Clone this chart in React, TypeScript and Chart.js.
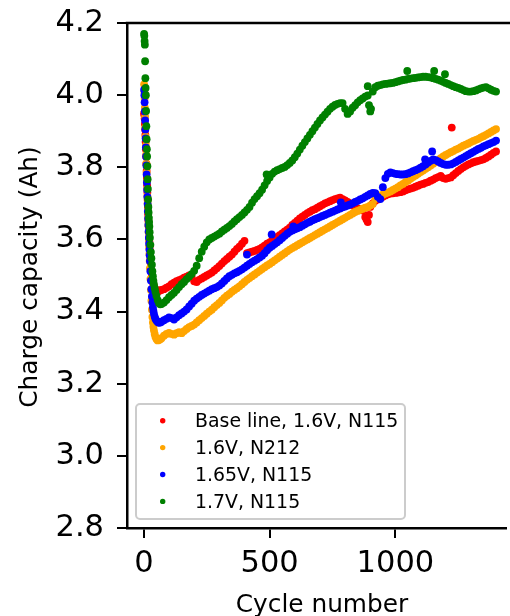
import React, { useEffect, useRef } from 'react';
import { Chart, registerables } from 'chart.js';

Chart.register(...registerables);

const FONT = '"DejaVu Sans", Verdana, sans-serif';

const seriesLabels = ['Base line, 1.6V, N115', '1.6V, N212', '1.65V, N115', '1.7V, N115'];
const seriesColors = ['#ff0000', '#ffa500', '#0000ff', '#008000'];

const xTickValues = [0, 500, 1000];
const yTickValues = [2.8, 3.0, 3.2, 3.4, 3.6, 3.8, 4.0, 4.2];
const xAxisTitle = 'Cycle number';
const yAxisTitle = 'Charge capacity (Ah)';

// first cycles (steep initial drop)
const earlyCycles = [1, 2, 3, 4, 5, 6, 7, 8, 9, 10, 11, 12, 13, 14, 15, 16, 17, 18, 19, 20, 21, 22, 23, 24,
  26, 28, 30, 32, 34, 36, 38, 40, 43, 46, 50, 55, 60, 65];
// every 10th cycle from 70 to 1400
const mainCycles = Array.from({ length: 134 }, (_, i) => 70 + i * 10);

const redEarly = [3.950, 3.945, 3.935, 3.920, 3.905, 3.890, 3.870, 3.850, 3.830, 3.810, 3.790, 3.770, 3.750, 3.730, 3.710, 3.690, 3.670, 3.652, 3.636, 3.620, 3.606, 3.594, 3.582, 3.570,
  3.548, 3.530, 3.515, 3.500, 3.490, 3.482, 3.475, 3.470, 3.465, 3.462, 3.458, 3.456, 3.457, 3.459];
const redMain = [
  3.460, 3.462, 3.466, 3.470, 3.476, 3.480, 3.484, 3.487, 3.490, 3.494,
  3.497, 3.500, 3.496, 3.484, 3.482, 3.488, 3.492, 3.496, 3.500, 3.504,
  3.508, 3.514, 3.520, 3.526, 3.533, 3.540, 3.546, 3.552, 3.558, 3.566,
  3.574, 3.580, 3.588, 3.596, 3.562, 3.564, 3.566, 3.568, 3.571, 3.574,
  3.578, 3.583, 3.588, 3.592, 3.597, 3.602, 3.607, 3.612, 3.617, 3.622,
  3.627, 3.633, 3.640, 3.646, 3.652, 3.658, 3.663, 3.668, 3.673, 3.677,
  3.681, 3.684, 3.688, 3.692, 3.696, 3.700, 3.703, 3.706, 3.709, 3.712,
  3.714, 3.716, 3.712, 3.708, 3.704, 3.700, 3.694, 3.690, 3.686, 3.684,
  3.680, 3.662, 3.648, 3.690, 3.700, 3.707, 3.711, 3.715, 3.718, 3.722,
  3.725, 3.727, 3.728, 3.729, 3.730, 3.731, 3.733, 3.736, 3.739, 3.741,
  3.743, 3.746, 3.749, 3.752, 3.754, 3.757, 3.759, 3.763, 3.766, 3.770,
  3.773, 3.776, 3.770, 3.768, 3.770, 3.772, 3.778, 3.784, 3.790, 3.795,
  3.800, 3.804, 3.808, 3.811, 3.814, 3.816, 3.818, 3.820, 3.822, 3.826,
  3.830, 3.835, 3.840, 3.844];
const redExtraCycles = [885, 895, 1224];
const redExtraValues = [3.655, 3.668, 3.910];

const orangeEarly = [4.030, 4.010, 3.990, 3.965, 3.940, 3.910, 3.885, 3.860, 3.835, 3.810, 3.785, 3.760, 3.740, 3.720, 3.700, 3.680, 3.660, 3.640, 3.620, 3.600, 3.580, 3.560, 3.540, 3.520,
  3.490, 3.460, 3.430, 3.405, 3.385, 3.370, 3.358, 3.348, 3.338, 3.330, 3.324, 3.320, 3.321, 3.323];
const orangeMain = [
  3.326, 3.333, 3.338, 3.341, 3.338, 3.336, 3.340, 3.343, 3.340, 3.346,
  3.352, 3.357, 3.360, 3.364, 3.370, 3.376, 3.382, 3.388, 3.394, 3.400,
  3.405, 3.412, 3.418, 3.424, 3.431, 3.438, 3.444, 3.449, 3.455, 3.460,
  3.465, 3.470, 3.476, 3.482, 3.488, 3.493, 3.498, 3.503, 3.508, 3.513,
  3.518, 3.523, 3.528, 3.532, 3.537, 3.542, 3.547, 3.552, 3.557, 3.562,
  3.567, 3.572, 3.576, 3.580, 3.584, 3.588, 3.592, 3.596, 3.600, 3.604,
  3.608, 3.612, 3.616, 3.620, 3.624, 3.628, 3.632, 3.636, 3.640, 3.644,
  3.648, 3.652, 3.656, 3.660, 3.664, 3.668, 3.672, 3.676, 3.679, 3.682,
  3.685, 3.688, 3.690, 3.694, 3.698, 3.712, 3.720, 3.722, 3.724, 3.727,
  3.730, 3.733, 3.737, 3.741, 3.745, 3.750, 3.754, 3.759, 3.763, 3.768,
  3.773, 3.777, 3.782, 3.787, 3.791, 3.796, 3.800, 3.805, 3.810, 3.815,
  3.820, 3.825, 3.830, 3.834, 3.838, 3.842, 3.845, 3.849, 3.852, 3.856,
  3.860, 3.863, 3.866, 3.870, 3.873, 3.876, 3.879, 3.883, 3.886, 3.890,
  3.894, 3.898, 3.902, 3.906];
const orangeExtraCycles: number[] = [];
const orangeExtraValues: number[] = [];

const blueEarly = [4.015, 4.000, 3.980, 3.955, 3.930, 3.905, 3.880, 3.855, 3.830, 3.805, 3.780, 3.758, 3.738, 3.718, 3.698, 3.678, 3.658, 3.640, 3.622, 3.605, 3.588, 3.572, 3.556, 3.540,
  3.512, 3.486, 3.462, 3.442, 3.425, 3.412, 3.402, 3.394, 3.386, 3.380, 3.375, 3.371, 3.369, 3.370];
const blueMain = [
  3.372, 3.376, 3.380, 3.384, 3.382, 3.378, 3.384, 3.390, 3.395, 3.400,
  3.406, 3.414, 3.422, 3.430, 3.436, 3.441, 3.446, 3.450, 3.454, 3.458,
  3.462, 3.465, 3.468, 3.472, 3.478, 3.485, 3.492, 3.498, 3.502, 3.506,
  3.509, 3.513, 3.517, 3.522, 3.527, 3.532, 3.537, 3.541, 3.545, 3.550,
  3.555, 3.562, 3.570, 3.577, 3.582, 3.587, 3.592, 3.598, 3.604, 3.610,
  3.616, 3.621, 3.625, 3.628, 3.631, 3.634, 3.638, 3.642, 3.646, 3.649,
  3.653, 3.656, 3.659, 3.662, 3.665, 3.668, 3.671, 3.674, 3.677, 3.680,
  3.683, 3.686, 3.689, 3.691, 3.694, 3.697, 3.700, 3.704, 3.707, 3.711,
  3.714, 3.718, 3.722, 3.726, 3.729, 3.728, 3.718, 3.712, 3.745, 3.770,
  3.782, 3.786, 3.784, 3.782, 3.781, 3.780, 3.780, 3.781, 3.783, 3.786,
  3.789, 3.792, 3.795, 3.799, 3.803, 3.808, 3.813, 3.818, 3.822, 3.820,
  3.816, 3.812, 3.809, 3.807, 3.807, 3.808, 3.811, 3.815, 3.819, 3.823,
  3.827, 3.831, 3.835, 3.839, 3.843, 3.847, 3.851, 3.854, 3.858, 3.861,
  3.864, 3.867, 3.870, 3.874];
const blueExtraCycles = [410, 508, 594, 783, 1118, 1146];
const blueExtraValues = [3.558, 3.614, 3.636, 3.703, 3.822, 3.844];

const greenEarly = [4.170, 4.165, 4.150, 4.140, 4.094, 4.047, 4.020, 4.000, 3.956, 3.914, 3.878, 3.850, 3.830, 3.803, 3.767, 3.740, 3.711, 3.690, 3.675, 3.660, 3.648, 3.636, 3.620, 3.605,
  3.585, 3.565, 3.548, 3.530, 3.512, 3.498, 3.485, 3.475, 3.465, 3.455, 3.444, 3.432, 3.424, 3.420];
const greenMain = [
  3.421, 3.425, 3.432, 3.440, 3.446, 3.452, 3.460, 3.468, 3.476, 3.482,
  3.490, 3.497, 3.504, 3.513, 3.527, 3.548, 3.566, 3.580, 3.592, 3.600,
  3.604, 3.608, 3.612, 3.616, 3.622, 3.627, 3.632, 3.637, 3.643, 3.650,
  3.656, 3.662, 3.668, 3.675, 3.682, 3.690, 3.702, 3.712, 3.720, 3.728,
  3.738, 3.750, 3.762, 3.772, 3.782, 3.788, 3.792, 3.795, 3.798, 3.801,
  3.806, 3.812, 3.819, 3.828, 3.838, 3.849, 3.860, 3.870, 3.880, 3.890,
  3.900, 3.910, 3.920, 3.930, 3.938, 3.946, 3.954, 3.962, 3.968, 3.973,
  3.976, 3.978, 3.978, 3.962, 3.948, 3.955, 3.965, 3.972, 3.980, 3.986,
  3.991, 3.996, 3.999, 3.955, 4.010, 4.022, 4.026, 4.028, 4.030, 4.031,
  4.032, 4.033, 4.034, 4.036, 4.038, 4.040, 4.042, 4.043, 4.045, 4.046,
  4.047, 4.048, 4.049, 4.050, 4.051, 4.051, 4.050, 4.049, 4.047, 4.045,
  4.043, 4.040, 4.037, 4.034, 4.031, 4.028, 4.025, 4.022, 4.020, 4.017,
  4.014, 4.011, 4.010, 4.010, 4.011, 4.013, 4.016, 4.019, 4.021, 4.022,
  4.019, 4.015, 4.012, 4.010];
const greenExtraCycles = [488, 890, 895, 903, 1047, 1154, 1197];
const greenExtraValues = [3.780, 4.025, 3.972, 3.962, 4.067, 4.067, 4.058];

function toPoints(early: number[], main: number[], extraC: number[], extraV: number[]) {
  const pts: { x: number; y: number }[] = [];
  earlyCycles.forEach((c, i) => pts.push({ x: c, y: early[i] }));
  mainCycles.forEach((c, i) => { if (main[i] !== undefined) pts.push({ x: c, y: main[i] }); });
  extraC.forEach((c, i) => pts.push({ x: c, y: extraV[i] }));
  return pts;
}

const seriesPoints = [
  toPoints(redEarly, redMain, redExtraCycles, redExtraValues),
  toPoints(orangeEarly, orangeMain, orangeExtraCycles, orangeExtraValues),
  toPoints(blueEarly, blueMain, blueExtraCycles, blueExtraValues),
  toPoints(greenEarly, greenMain, greenExtraCycles, greenExtraValues),
];

const decorPlugin = {
  id: 'decor',
  afterDraw(chart: any) {
    const { ctx, chartArea } = chart;
    ctx.save();
    // top spine
    ctx.strokeStyle = '#000000';
    ctx.lineWidth = 2.5;
    ctx.beginPath();
    ctx.moveTo(chartArea.left - 1.25, chartArea.top);
    ctx.lineTo(chart.width, chartArea.top);
    ctx.stroke();

    // axis titles
    ctx.fillStyle = '#000000';
    ctx.font = `24.8px ${FONT}`;
    ctx.textAlign = 'center';
    ctx.textBaseline = 'alphabetic';
    ctx.fillText(xAxisTitle, 322, 612);
    ctx.save();
    ctx.translate(37, 277);
    ctx.rotate(-Math.PI / 2);
    ctx.fillText(yAxisTitle, 0, 0);
    ctx.restore();

    // legend
    const lx = chartArea.left + 9;
    const lw = 269;
    const lh = 115;
    const ly = chartArea.bottom - 9 - lh;
    ctx.beginPath();
    ctx.roundRect(lx, ly, lw, lh, 4);
    ctx.fillStyle = 'rgba(255,255,255,0.8)';
    ctx.fill();
    ctx.strokeStyle = '#cccccc';
    ctx.lineWidth = 2;
    ctx.stroke();
    ctx.font = `18.9px ${FONT}`;
    ctx.textAlign = 'left';
    seriesLabels.forEach((label, i) => {
      const cy = ly + 16.7 + i * 26.9;
      ctx.beginPath();
      ctx.arc(lx + 26.7, cy, 2.7, 0, Math.PI * 2);
      ctx.fillStyle = seriesColors[i];
      ctx.fill();
      ctx.fillStyle = '#000000';
      ctx.fillText(label, lx + 59, cy + 6.1);
    });
    ctx.restore();
  },
};

export default function App() {
  const ref = useRef<HTMLCanvasElement>(null);
  useEffect(() => {
    document.body.style.margin = '0';
    const canvas = ref.current!;
    const chart = new Chart(canvas, {
      type: 'scatter',
      data: {
        datasets: seriesPoints.map((pts, i) => ({
          label: seriesLabels[i],
          data: pts,
          backgroundColor: seriesColors[i],
          borderColor: seriesColors[i],
          borderWidth: 0,
          pointRadius: 3.9,
          pointHoverRadius: 3.9,
          order: 4 - i,
        })),
      },
      options: {
        responsive: false,
        animation: false,
        devicePixelRatio: 1,
        events: [],
        layout: { padding: { top: 23, left: 0, right: 0, bottom: 0 } },
        plugins: { legend: { display: false }, tooltip: { enabled: false }, title: { display: false } },
        scales: {
          x: {
            type: 'linear',
            min: -67,
            max: 1440,
            afterBuildTicks: (axis: any) => { axis.ticks = xTickValues.map((v) => ({ value: v })); },
            afterFit: (scale: any) => { scale.height = 88; scale.paddingLeft = 0; scale.paddingRight = 0; },
            grid: { drawOnChartArea: false, drawTicks: true, tickLength: 10, tickColor: '#000000', lineWidth: 2 },
            border: { display: true, color: '#000000', width: 2.5 },
            ticks: {
              color: '#000000',
              padding: 8,
              maxRotation: 0,
              font: { family: FONT, size: 30.5 },
              callback: (v: any) => String(v),
            },
          },
          y: {
            type: 'linear',
            min: 2.8,
            max: 4.2,
            afterBuildTicks: (axis: any) => { axis.ticks = yTickValues.map((v) => ({ value: v })); },
            afterFit: (scale: any) => { scale.width = 127; scale.paddingTop = 0; scale.paddingBottom = 0; },
            grid: { drawOnChartArea: false, drawTicks: true, tickLength: 10, tickColor: '#000000', lineWidth: 2 },
            border: { display: true, color: '#000000', width: 2.5 },
            ticks: {
              color: '#000000',
              padding: 13,
              font: { family: FONT, size: 30.5 },
              callback: (v: any) => Number(v).toFixed(1),
            },
          },
        },
      },
      plugins: [decorPlugin],
    } as any);
    return () => chart.destroy();
  }, []);
  return <canvas ref={ref} width={510} height={616} style={{ display: 'block', width: 510, height: 616 }} />;
}
